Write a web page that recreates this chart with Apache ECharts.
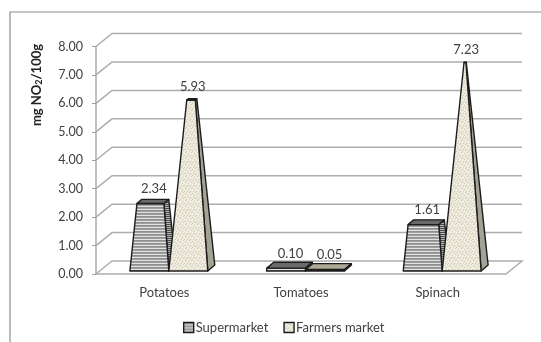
<!DOCTYPE html>
<html>
<head>
<meta charset="utf-8">
<style>html,body{margin:0;padding:0;background:#fff;overflow:hidden}#chart{width:541px;height:342px}</style>
<script src="https://cdn.jsdelivr.net/npm/echarts@6/dist/echarts.min.js"></script>
</head>
<body>
<div id="chart"></div>
<script>
// Nitrite content by vegetable and point of sale (mg NO2-/100 g)
const categories = ['Potatoes', 'Tomatoes', 'Spinach'];
const supermarket = [2.34, 0.10, 1.61];
const farmersMarket = [5.93, 0.05, 7.23];
const valueTicks = [0, 1, 2, 3, 4, 5, 6, 7, 8];
const seriesNames = ['Supermarket', 'Farmers market'];

const AXIS_MAX = 8;
const APEX_VALUE = 7.6;              // height at which a pyramid would close to a point
const WALL_DX = 16, WALL_DY = -13;   // oblique shift of the back wall
const BAR_DX = 7, BAR_DY = -6;       // depth of a pyramid's square base
const FONT = 'Lato, "Open Sans", sans-serif';
const TEXT = '#404040';
const RULE = '#adadad';

function tile(w, h, paint) {
  const c = document.createElement('canvas');
  c.width = w; c.height = h;
  paint(c.getContext('2d'));
  return { image: c, repeat: 'repeat' };
}
function rows(colors) {
  return tile(4, colors.length, g => colors.forEach((col, i) => {
    g.fillStyle = col; g.fillRect(0, i, 4, 1);
  }));
}
const stripes = rows(['#8f8f8f', '#a0a0a0', '#e2e2e2']);
const darkStripes = rows(['#4c4c4c', '#b5b5b5']);
const speckle = tile(6, 6, g => {
  g.fillStyle = '#ece8da'; g.fillRect(0, 0, 6, 6);
  g.fillStyle = '#cfcab6';
  [[0, 1], [3, 0], [5, 2], [2, 3], [4, 5], [1, 5]].forEach(p => g.fillRect(p[0], p[1], 1, 1));
  g.fillStyle = '#f8f6ee';
  [[2, 1], [4, 3], [0, 4]].forEach(p => g.fillRect(p[0], p[1], 1, 1));
});
const faces = [
  { front: stripes, side: darkStripes, top: '#6a6a6a' },
  { front: speckle, side: '#a3a294', top: '#aeaa96' }
];

// Back wall rules plus the floor's right edge
function renderWall(params, api) {
  const cs = params.coordSys;
  const y = api.coord([0, api.value(0)])[1];
  const x0 = cs.x, x1 = cs.x + cs.width;
  const pts = [[x0, y], [x0 + WALL_DX, y + WALL_DY], [x1 + WALL_DX, y + WALL_DY]];
  if (api.value(0) === 0) pts.push([x1, y]);
  return {
    type: 'polyline',
    shape: { points: pts },
    style: { fill: 'none', stroke: RULE, lineWidth: 1.5 }
  };
}

// Truncated pyramid: the cross-section shrinks linearly with height
function pyramidRenderer(seriesIndex) {
  return function (params, api) {
    const value = api.value(1);
    const origin = api.coord([api.value(0), 0]);
    const peak = api.coord([api.value(0), value]);
    const band = api.size([1, 0])[0];
    const w = band * 0.285;
    const dir = seriesIndex === 0 ? -0.5 : 0.5;
    const fx = origin[0] + 4.5 + dir * w;   // front centre of the base
    const by = origin[1] - 3;
    const h = origin[1] - peak[1];
    const f = Math.max(0, 1 - value / APEX_VALUE);
    const cx = fx + BAR_DX / 2, cy = by + BAR_DY / 2;
    const corner = (sx, sz, k, yy) => [
      cx + sx * k * w / 2 + sz * k * BAR_DX / 2,
      yy + sz * k * BAR_DY / 2
    ];
    const bl = corner(-1, -1, 1, cy), br = corner(1, -1, 1, cy), brb = corner(1, 1, 1, cy);
    const tl = corner(-1, -1, f, cy - h), tr = corner(1, -1, f, cy - h);
    const trb = corner(1, 1, f, cy - h), tlb = corner(-1, 1, f, cy - h);
    const line = { stroke: '#1c1c1c', lineWidth: 1.4, lineJoin: 'round' };
    const poly = (points, fill) => ({
      type: 'polygon', shape: { points }, style: Object.assign({ fill }, line)
    });
    const face = faces[seriesIndex];
    return {
      type: 'group',
      children: [
        poly([br, brb, trb, tr], face.side),
        poly([bl, br, tr, tl], face.front),
        poly([tl, tr, trb, tlb], face.top),
        {
          type: 'text',
          x: fx + 4.5,
          y: tlb[1] - 8.8 - value * 0.55,
          style: {
            text: value.toFixed(2), fill: TEXT, font: '13px ' + FONT,
            align: 'center', verticalAlign: 'middle'
          }
        }
      ]
    };
  };
}

const toPoints = values => values.map((v, i) => [i, v]);

const chart = echarts.init(document.getElementById('chart'), null, { renderer: 'canvas' });
chart.setOption({
  animation: false,
  backgroundColor: '#fff',
  grid: { left: 96, right: 35, top: 46.5, bottom: 68 },
  xAxis: {
    type: 'category',
    data: categories,
    axisLine: { lineStyle: { color: RULE, width: 1.5 } },
    axisTick: { length: 4, lineStyle: { color: '#a0a0a0' } },
    axisLabel: { color: TEXT, fontFamily: FONT, fontSize: 13, margin: 12 }
  },
  yAxis: {
    type: 'value',
    min: 0, max: AXIS_MAX, interval: 1,
    splitLine: { show: false },
    axisLine: { show: true, lineStyle: { color: RULE, width: 1.5 } },
    axisTick: { show: true, length: 4, lineStyle: { color: '#a0a0a0' } },
    axisLabel: {
      color: TEXT, fontFamily: FONT, fontSize: 12.5, margin: 13,
      formatter: v => v.toFixed(2)
    }
  },
  legend: {
    left: 183, top: 321, padding: 0,
    itemWidth: 10, itemHeight: 10, itemGap: 15,
    textStyle: { color: TEXT, fontFamily: FONT, fontSize: 13, padding: [0, 0, 0, -3] },
    data: seriesNames.map((name, i) => ({
      name, icon: 'rect',
      itemStyle: { color: faces[i].front, borderColor: '#1c1c1c', borderWidth: 1.4 }
    }))
  },
  graphic: [
    // outer chart frame, open to the right and the bottom
    { type: 'polyline', silent: true, shape: { points: [[10, 342], [10, 12], [541, 12]] },
      style: { fill: 'none', stroke: '#8c8c8c', lineWidth: 1.2 } },
    { type: 'text', silent: true, x: 37, y: 85, rotation: Math.PI / 2,
      style: {
        text: '{b|mg NO}{s|2}{b|/100g}',
        align: 'center', verticalAlign: 'middle',
        rich: {
          b: { font: 'bold 13px ' + FONT, fill: '#222' },
          s: { font: 'bold 9px ' + FONT, fill: '#222', padding: [5, 0, 0, 0] }
        }
      } }
  ],
  series: [
    {
      type: 'custom', coordinateSystem: 'cartesian2d', silent: true, z: 1, clip: false,
      renderItem: renderWall, encode: { x: 1, y: 0 },
      data: valueTicks.map(v => [v, 0])
    },
    {
      name: seriesNames[0], type: 'custom', coordinateSystem: 'cartesian2d', z: 3, clip: false,
      renderItem: pyramidRenderer(0), encode: { x: 0, y: 1 }, data: toPoints(supermarket)
    },
    {
      name: seriesNames[1], type: 'custom', coordinateSystem: 'cartesian2d', z: 3, clip: false,
      renderItem: pyramidRenderer(1), encode: { x: 0, y: 1 }, data: toPoints(farmersMarket)
    }
  ]
});
</script>
</body>
</html>
